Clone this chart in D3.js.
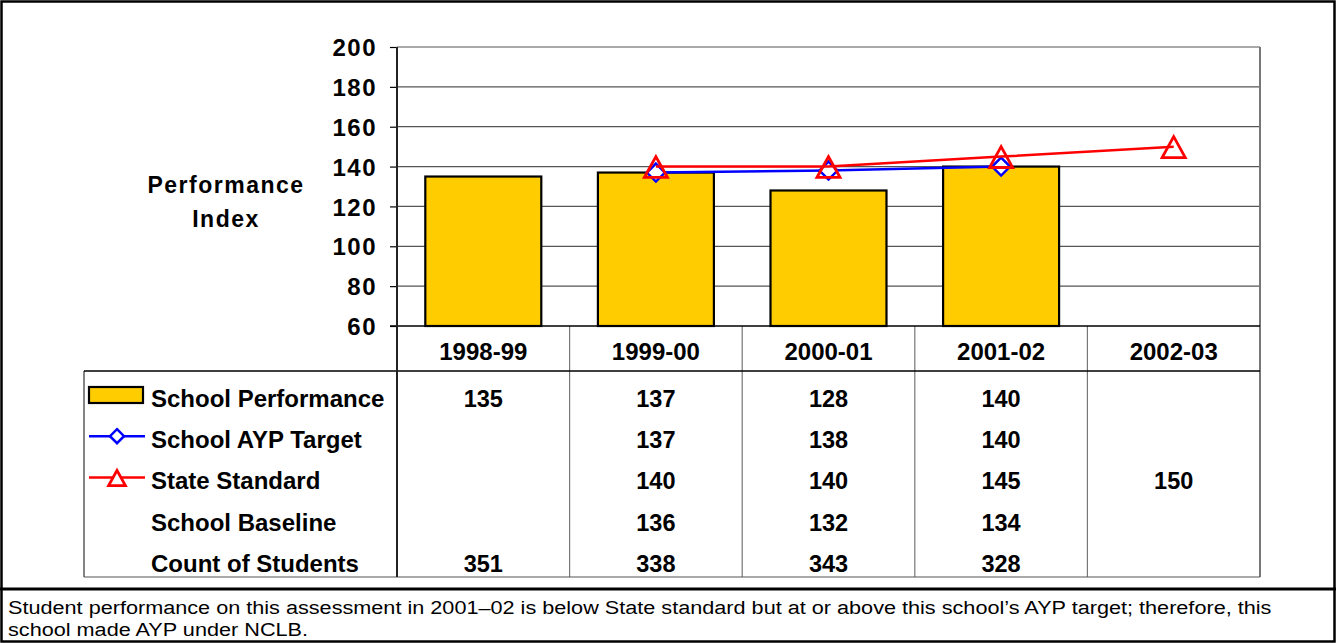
<!DOCTYPE html>
<html>
<head>
<meta charset="utf-8">
<script src="https://cdn.jsdelivr.net/npm/d3@7"></script>
<style>
  body { margin: 0; background: #fff; }
  svg { display: block; font-family: Arial, "Liberation Sans", sans-serif; }
</style>
</head>
<body>
<div id="chart"></div>
<script>
// Data ---------------------------------------------------------------------------------------------------
const years = ["1998-99", "1999-00", "2000-01", "2001-02", "2002-03"];
const schoolPerformance = [135, 137, 128, 140, null];
const aypTarget = [null, 137, 138, 140, null];
const stateStandard = [null, 140, 140, 145, 150];
const schoolBaseline = [null, 136, 132, 134, null];
const studentCount = [351, 338, 343, 328, null];
const yTicks = [60, 80, 100, 120, 140, 160, 180, 200];
const rowLabels = ["School Performance", "School AYP Target", "State Standard", "School Baseline", "Count of Students"];
const footnote = [
  "Student performance on this assessment in 2001\u201302 is below State standard but at or above this school\u2019s AYP target; therefore, this",
  "school made AYP under NCLB."
];

// Dimensions ---------------------------------------------------------------------------------------------
const width = 1336, height = 643;
const plot = {left: 397, right: 1260, top: 47, bottom: 326};
const table = {left: 84, headerBottom: 371, bottom: 577};
const rowH = (table.bottom - table.headerBottom) / rowLabels.length;

const svg = d3.select("#chart").append("svg")
  .attr("width", width)
  .attr("height", height);

// Scales
const x = d3.scaleBand()
  .domain(years)
  .range([plot.left, plot.right])
  .paddingInner(0.328)
  .paddingOuter(0.164);

const y = d3.scaleLinear()
  .domain([60, 200])
  .range([plot.bottom, plot.top]);

const step = x.step();
const colStart = d => x(d) - x.paddingInner() * step / 2;

// Outer frame + footnote ---------------------------------------------------------------------------------
svg.append("rect")
  .attr("x", 1.5).attr("y", 1.5)
  .attr("width", width - 3).attr("height", height - 3)
  .attr("fill", "none").attr("stroke", "#000").attr("stroke-width", 2.5);

svg.append("line")
  .attr("x1", 0).attr("x2", width)
  .attr("y1", 589).attr("y2", 589)
  .attr("stroke", "#000").attr("stroke-width", 3);

// footnote text is a bit wider than Arial, stretch it horizontally
svg.append("g")
  .attr("transform", "translate(8,0) scale(1.14,1)")
  .selectAll(".foot")
  .data(footnote)
  .enter().append("text")
  .attr("class", "foot")
  .attr("x", 0)
  .attr("y", (d, i) => 614 + i * 22)
  .attr("font-size", 19)
  .attr("fill", "#000")
  .text(d => d);

// Gridlines ----------------------------------------------------------------------------------------------
svg.append("g")
  .selectAll("line")
  .data(yTicks.filter(t => t > 60))
  .enter().append("line")
  .attr("x1", plot.left).attr("x2", plot.right)
  .attr("y1", d => y(d)).attr("y2", d => y(d))
  .attr("stroke", "#555").attr("stroke-width", 1.2);

// Y axis
const yAxis = svg.append("g")
  .attr("transform", `translate(${plot.left},0)`)
  .call(d3.axisLeft(y).tickValues(yTicks).tickSize(7).tickPadding(13));
yAxis.select(".domain").remove();
yAxis.selectAll(".tick line").attr("stroke", "#000").attr("stroke-width", 1.2);
yAxis.selectAll(".tick text")
  .attr("font-family", "Arial, 'Liberation Sans', sans-serif")
  .attr("font-size", 24)
  .attr("font-weight", "bold")
  .attr("letter-spacing", 1.5)
  .attr("fill", "#000")
  .attr("dy", "0.36em");

// Axis title
svg.append("text")
  .attr("x", 226).attr("text-anchor", "middle")
  .attr("font-size", 23).attr("font-weight", "bold")
  .attr("letter-spacing", 1.5)
  .selectAll("tspan")
  .data(["Performance", "Index"])
  .enter().append("tspan")
  .attr("x", 226)
  .attr("y", (d, i) => 193 + i * 34)
  .text(d => d);

// Table grid ---------------------------------------------------------------------------------------------
const grid = svg.append("g");
// column separators
grid.selectAll(".col")
  .data(years.slice(1))
  .enter().append("line")
  .attr("x1", d => colStart(d)).attr("x2", d => colStart(d))
  .attr("y1", plot.bottom).attr("y2", table.bottom)
  .attr("stroke", "#777").attr("stroke-width", 1.2);
// right border
grid.append("line")
  .attr("x1", plot.right).attr("x2", plot.right)
  .attr("y1", plot.top).attr("y2", table.bottom)
  .attr("stroke", "#777").attr("stroke-width", 2);
// left table border
grid.append("line")
  .attr("x1", table.left).attr("x2", table.left)
  .attr("y1", table.headerBottom).attr("y2", table.bottom)
  .attr("stroke", "#333").attr("stroke-width", 1.2);
// header bottom + table bottom
grid.append("line")
  .attr("x1", table.left).attr("x2", plot.right)
  .attr("y1", table.headerBottom).attr("y2", table.headerBottom)
  .attr("stroke", "#000").attr("stroke-width", 1.5);
grid.append("line")
  .attr("x1", table.left).attr("x2", plot.right)
  .attr("y1", table.bottom).attr("y2", table.bottom)
  .attr("stroke", "#555").attr("stroke-width", 1.2);
// baseline of plot (60)
grid.append("line")
  .attr("x1", plot.left - 7).attr("x2", plot.right)
  .attr("y1", plot.bottom).attr("y2", plot.bottom)
  .attr("stroke", "#000").attr("stroke-width", 1.5);

// Bars ---------------------------------------------------------------------------------------------------
svg.append("g")
  .selectAll("rect")
  .data(years.map((yr, i) => ({yr, v: schoolPerformance[i]})).filter(d => d.v != null))
  .enter().append("rect")
  .attr("x", d => x(d.yr))
  .attr("width", x.bandwidth())
  .attr("y", d => y(d.v))
  .attr("height", d => y(60) - y(d.v))
  .attr("fill", "#FFCC00")
  .attr("stroke", "#000")
  .attr("stroke-width", 2.2);

// value axis line (drawn over bars/grid)
svg.append("line")
  .attr("x1", plot.left).attr("x2", plot.left)
  .attr("y1", plot.top).attr("y2", table.bottom)
  .attr("stroke", "#222").attr("stroke-width", 2);

// Markers
const diamond = s => `M0,${-s}L${s},0L0,${s}L${-s},0Z`;
const triangle = s => `M0,${-s}L${s * 1.05},${s * 0.9}L${-s * 1.05},${s * 0.9}Z`;

const cx = d => x(d) + x.bandwidth() / 2;
const line = d3.line()
  .defined(d => d.v != null)
  .x(d => cx(d.yr))
  .y(d => y(d.v));

const aypData = years.map((yr, i) => ({yr, v: aypTarget[i]}));
const stateData = years.map((yr, i) => ({yr, v: stateStandard[i]}));

svg.append("path")
  .datum(aypData.filter(d => d.v != null))
  .attr("d", line)
  .attr("fill", "none").attr("stroke", "#0000FF").attr("stroke-width", 2.5);
svg.append("g")
  .selectAll("path")
  .data(aypData.filter(d => d.v != null))
  .enter().append("path")
  .attr("transform", d => `translate(${cx(d.yr)},${y(d.v)})`)
  .attr("d", diamond(9))
  .attr("fill", "#fff").attr("stroke", "#0000FF").attr("stroke-width", 2.5);

svg.append("path")
  .datum(stateData.filter(d => d.v != null))
  .attr("d", line)
  .attr("fill", "none").attr("stroke", "#FF0000").attr("stroke-width", 2.5);
svg.append("g")
  .selectAll("path")
  .data(stateData.filter(d => d.v != null))
  .enter().append("path")
  .attr("transform", d => `translate(${cx(d.yr)},${y(d.v) + 1})`)
  .attr("d", triangle(11))
  .attr("fill", "none").attr("stroke", "#FF0000").attr("stroke-width", 2.8);

// Header labels
svg.append("g")
  .selectAll("text")
  .data(years)
  .enter().append("text")
  .attr("x", d => cx(d))
  .attr("y", 360)
  .attr("text-anchor", "middle")
  .attr("font-size", 24).attr("font-weight", "bold")
  .text(d => d);

// Table rows ---------------------------------------------------------------------------------------------
const rows = [schoolPerformance, aypTarget, stateStandard, schoolBaseline, studentCount];
const rowBase = i => table.headerBottom + i * rowH + 36;

svg.append("g")
  .selectAll("text")
  .data(rowLabels)
  .enter().append("text")
  .attr("x", 151)
  .attr("y", (d, i) => rowBase(i))
  .attr("font-size", 24).attr("font-weight", "bold")
  .text(d => d);

rows.forEach((vals, i) => {
  svg.append("g")
    .selectAll("text")
    .data(years.map((yr, j) => ({yr, v: vals[j]})).filter(d => d.v != null))
    .enter().append("text")
    .attr("x", d => cx(d.yr))
    .attr("y", rowBase(i))
    .attr("text-anchor", "middle")
    .attr("font-size", 23.5).attr("font-weight", "bold")
    .text(d => d.v);
});

// Legend keys
const keyX = 117;
svg.append("rect")
  .attr("x", 89).attr("y", 387)
  .attr("width", 54).attr("height", 16)
  .attr("fill", "#FFCC00").attr("stroke", "#000").attr("stroke-width", 2.2);

const keyY1 = rowBase(1) - 12, keyY2 = rowBase(2) - 12;
svg.append("line")
  .attr("x1", 89).attr("x2", 145).attr("y1", keyY1).attr("y2", keyY1)
  .attr("stroke", "#0000FF").attr("stroke-width", 2.5);
svg.append("path")
  .attr("transform", `translate(${keyX},${keyY1})`)
  .attr("d", diamond(7))
  .attr("fill", "#fff").attr("stroke", "#0000FF").attr("stroke-width", 2.5);
svg.append("line")
  .attr("x1", 89).attr("x2", 145).attr("y1", keyY2).attr("y2", keyY2)
  .attr("stroke", "#FF0000").attr("stroke-width", 2.5);
svg.append("path")
  .attr("transform", `translate(${keyX},${keyY2 + 1})`)
  .attr("d", triangle(8))
  .attr("fill", "#fff").attr("stroke", "#FF0000").attr("stroke-width", 2.8);
</script>
</body>
</html>
